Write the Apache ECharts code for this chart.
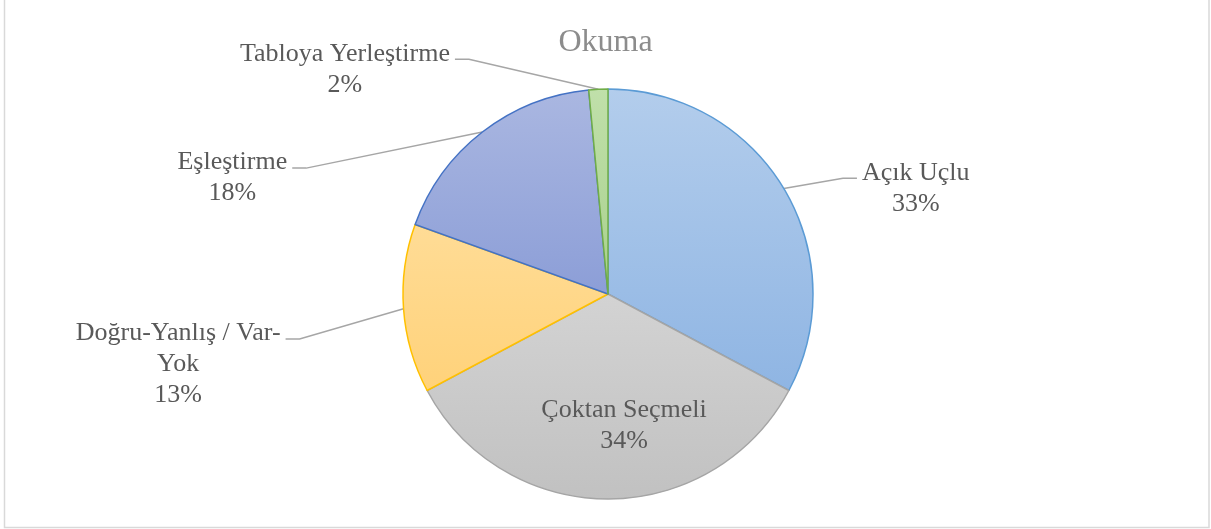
<!DOCTYPE html>
<html>
<head>
<meta charset="utf-8">
<script src="https://cdn.jsdelivr.net/npm/echarts@6/dist/echarts.min.js"></script>
<style>
  html, body { margin: 0; padding: 0; background: #fff; }
  #chart { width: 1211px; height: 529px; }
</style>
</head>
<body>
<div id="chart"></div>
<script>
// veriler (okuma soru tipleri)
const categories = ['Açık Uçlu', 'Çoktan Seçmeli', 'Doğru-Yanlış / Var-Yok', 'Eşleştirme', 'Tabloya Yerleştirme'];
const labelText = ['Açık Uçlu', 'Çoktan Seçmeli', 'Doğru-Yanlış / Var-\nYok', 'Eşleştirme', 'Tabloya Yerleştirme'];
const values = [32.8, 34.4, 13.3, 18.0, 1.5];

// renkler: üst, alt, kenar
const fillTop = ['#b3cdec', '#d3d3d3', '#ffdc96', '#aab7e1', '#c0e0aa'];
const fillBottom = ['#8fb5e3', '#c1c1c1', '#ffd27a', '#8c9ed7', '#a8d08d'];
const edgeColor = ['#5b9bd5', '#a5a5a5', '#ffc000', '#4472c4', '#70ad47'];

// etiket çizgisi uzunlukları ve dikey kaydırmalar (Excel yerleşimine yakın)
const lineLen = [[20, 56], null, [15, 103], [10, 184], [30, 142]];
const labelNudge = [[0, 0], [16, 26], [0, 29], [0, 44], [0, 0]];

const serif = "'Liberation Serif', 'Times New Roman', serif";

var myChart = echarts.init(document.getElementById('chart'));

const seriesData = categories.map(function (name, i) {
  const item = {
    name: name,
    value: values[i],
    itemStyle: {
      color: new echarts.graphic.LinearGradient(0, 0, 0, 1, [
        { offset: 0, color: fillTop[i] },
        { offset: 1, color: fillBottom[i] }
      ]),
      borderColor: edgeColor[i],
      borderWidth: 1.5
    }
  };
  if (lineLen[i]) {
    item.labelLine = { length: lineLen[i][0], length2: lineLen[i][1] };
  } else {
    item.label = { position: 'inside' };
    item.labelLine = { show: false };
  }
  return item;
});

myChart.setOption({
  animation: false,
  backgroundColor: '#ffffff',
  title: {
    text: 'Okuma',
    left: 'center',
    top: 22,
    textStyle: { fontFamily: serif, fontSize: 32, fontWeight: 'normal', color: '#8c8c8c' }
  },
  graphic: [{
    type: 'rect',
    shape: { x: 4.5, y: -5, width: 1204.5, height: 532.5 },
    style: { fill: 'none', stroke: '#d9d9d9', lineWidth: 1.5 },
    silent: true
  }],
  series: [{
    type: 'pie',
    center: [608, 294],
    radius: 205,
    startAngle: 90,
    clockwise: true,
    avoidLabelOverlap: false,
    label: {
      show: true,
      fontFamily: serif,
      fontSize: 26,
      lineHeight: 31,
      color: '#595959',
      distanceToLabelLine: 5,
      formatter: function (p) {
        return labelText[p.dataIndex] + '\n' + Math.round(p.percent) + '%';
      }
    },
    labelLine: {
      show: true,
      lineStyle: { color: '#a6a6a6', width: 1.5 }
    },
    labelLayout: function (p) {
      const nudge = labelNudge[p.dataIndex];
      const r = p.labelRect;
      const pts = p.labelLinePoints;
      const cx = r.x + r.width / 2;
      if (!pts) {
        return { x: cx + nudge[0], y: r.y + r.height / 2 + nudge[1], align: 'center', verticalAlign: 'middle' };
      }
      const end = [pts[2][0], pts[2][1] + nudge[1]];
      const side = pts[2][0] < pts[1][0] ? 1 : -1;
      return {
        x: cx,
        y: end[1] + r.height / 2 - 21,
        align: 'center',
        verticalAlign: 'middle',
        labelLinePoints: [pts[0], [end[0] + side * 14, end[1]], end]
      };
    },
    emphasis: { disabled: true },
    data: seriesData
  }]
});
</script>
</body>
</html>
